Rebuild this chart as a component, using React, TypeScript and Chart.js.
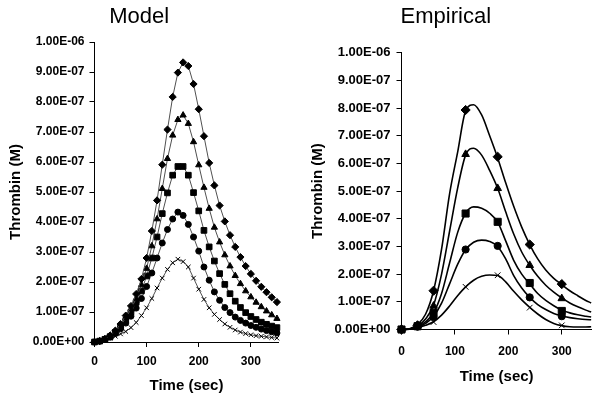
import React, { useEffect, useRef } from 'react';
import { Chart, registerables } from 'chart.js';

Chart.register(...registerables);

// ---------- DATA (thrombin in units of 1e-7 M, time in sec) ----------
const MODEL_TIME = [0, 10, 20, 30, 40, 50, 60, 70, 80, 90, 100, 110, 120, 130, 140, 150, 160, 170, 180, 190, 200, 210, 220, 230, 240, 250, 260, 270, 280, 290, 300, 310, 320, 330, 340, 350];
const MODEL_DIAMOND = [0, 0.03, 0.1, 0.22, 0.38, 0.6, 0.88, 1.2, 1.6, 2.1, 2.8, 3.7, 4.72, 5.91, 7.08, 8.17, 8.98, 9.32, 9.2, 8.6, 7.76, 6.86, 5.97, 5.22, 4.55, 4.02, 3.56, 3.17, 2.83, 2.53, 2.27, 2.04, 1.84, 1.66, 1.49, 1.33];
const MODEL_TRIANGLE = [0, 0.03, 0.1, 0.2, 0.35, 0.55, 0.8, 1.1, 1.45, 1.9, 2.45, 3.2, 4.1, 5.11, 6.11, 6.89, 7.41, 7.56, 7.28, 6.67, 5.9, 5.15, 4.45, 3.82, 3.33, 2.9, 2.53, 2.21, 1.94, 1.7, 1.5, 1.32, 1.17, 1.03, 0.9, 0.78];
const MODEL_SQUARE = [0, 0.03, 0.09, 0.18, 0.32, 0.5, 0.72, 1.0, 1.32, 1.7, 2.2, 2.8, 3.5, 4.28, 4.97, 5.56, 5.85, 5.85, 5.56, 4.98, 4.37, 3.72, 3.17, 2.7, 2.28, 1.92, 1.61, 1.36, 1.15, 0.98, 0.85, 0.75, 0.66, 0.59, 0.53, 0.48];
const MODEL_CIRCLE = [0, 0.03, 0.08, 0.16, 0.28, 0.44, 0.63, 0.86, 1.13, 1.45, 1.85, 2.3, 2.8, 3.3, 3.75, 4.1, 4.33, 4.22, 3.92, 3.5, 3.03, 2.5, 2.06, 1.67, 1.39, 1.15, 0.98, 0.83, 0.72, 0.63, 0.55, 0.49, 0.43, 0.38, 0.34, 0.3];
const MODEL_CROSS = [0, 0.02, 0.06, 0.12, 0.19, 0.27, 0.35, 0.48, 0.65, 0.88, 1.14, 1.45, 1.8, 2.13, 2.42, 2.64, 2.76, 2.68, 2.5, 2.13, 1.76, 1.42, 1.14, 0.92, 0.75, 0.6, 0.49, 0.4, 0.33, 0.28, 0.24, 0.21, 0.19, 0.17, 0.15, 0.13];

const EMP_TIME = [0, 30, 60, 120, 180, 240, 300];
const EMP_DIAMOND = [0, 0.15, 1.4, 7.93, 6.24, 3.07, 1.64];
const EMP_TRIANGLE = [0, 0.15, 0.85, 6.33, 5.1, 2.32, 1.12];
const EMP_SQUARE = [0, 0.12, 0.6, 4.19, 3.89, 1.68, 0.67];
const EMP_CIRCLE = [0, 0.1, 0.45, 2.89, 3.02, 1.16, 0.48];
const EMP_CROSS = [0, 0.08, 0.27, 1.54, 1.96, 0.79, 0.15];

const FIT_TIME = [0, 15, 30, 45, 60, 75, 90, 105, 120, 135, 150, 165, 180, 195, 210, 225, 240, 255, 270, 285, 300, 315, 330, 345, 355];
const FIT_DIAMOND = [0, 0.03, 0.18, 0.55, 1.4, 2.9, 4.9, 6.4, 7.9, 8.12, 7.75, 7.0, 6.2, 5.3, 4.45, 3.7, 3.07, 2.55, 2.15, 1.85, 1.62, 1.4, 1.22, 1.05, 0.96];
const FIT_TRIANGLE = [0, 0.02, 0.12, 0.38, 0.88, 2.0, 3.55, 5.1, 6.3, 6.55, 6.3, 5.75, 5.1, 4.25, 3.45, 2.8, 2.32, 1.92, 1.6, 1.35, 1.14, 0.96, 0.82, 0.7, 0.63];
const FIT_SQUARE = [0, 0.02, 0.1, 0.28, 0.6, 1.3, 2.4, 3.5, 4.2, 4.43, 4.38, 4.2, 3.88, 3.2, 2.5, 2.0, 1.65, 1.3, 1.05, 0.86, 0.7, 0.6, 0.53, 0.48, 0.45];
const FIT_CIRCLE = [0, 0.02, 0.08, 0.22, 0.47, 0.95, 1.65, 2.35, 2.88, 3.15, 3.23, 3.18, 3.0, 2.55, 1.95, 1.5, 1.16, 0.9, 0.72, 0.58, 0.49, 0.43, 0.39, 0.36, 0.35];
const FIT_CROSS = [0, 0.01, 0.07, 0.15, 0.28, 0.52, 0.85, 1.22, 1.54, 1.78, 1.92, 1.97, 1.95, 1.72, 1.38, 1.07, 0.8, 0.56, 0.36, 0.22, 0.14, 0.1, 0.09, 0.09, 0.1];

const Y_TICKS = [0, 1, 2, 3, 4, 5, 6, 7, 8, 9, 10];
const X_TICKS = [0, 100, 200, 300];

const FONT = '"Liberation Sans", Arial, Helvetica, sans-serif';

function sciLabel(v: number): string {
  const k = Math.round(v);
  if (k === 0) return '0.00E+00';
  if (k >= 10) return (k / 10).toFixed(2) + 'E-06';
  return k.toFixed(2) + 'E-07';
}

const pts = (xs: number[], ys: number[]) => xs.map((x, i) => ({ x, y: ys[i] }));

type Geo = {
  canvasW: number;
  areaLeft: number;
  areaRight: number;
  areaTop: number;
  areaBottom: number;
  yTitlePad: number;
  xTitlePad: number;
  yTickPad: number;
  xTickPad: number;
  yTickSize: number;
  xMax: number;
  title: string;
};

function makeConfig(geo: Geo, datasets: any[]): any {
  const titleSize = 22;
  const titleTop = 4;
  const titleBottom = geo.areaTop - titleTop - titleSize * 1.2;
  return {
    type: 'scatter',
    data: { datasets },
    options: {
      responsive: false,
      animation: false,
      events: [],
      layout: { padding: { left: 0, top: 0, right: geo.canvasW - geo.areaRight, bottom: 0 } },
      plugins: {
        legend: { display: false },
        tooltip: { enabled: false },
        title: {
          display: true,
          text: geo.title,
          color: '#000',
          font: { family: FONT, size: titleSize, weight: 'normal' },
          padding: { top: titleTop, bottom: titleBottom },
        },
      },
      scales: {
        x: {
          type: 'linear',
          min: 0,
          max: geo.xMax,
          bounds: 'data',
          afterFit: (s: any) => { s.height = 401 - geo.areaBottom; },
          afterBuildTicks: (s: any) => { s.ticks = X_TICKS.map((v) => ({ value: v })); },
          ticks: {
            color: '#000',
            font: { family: FONT, size: 12, weight: 'bold' },
            padding: geo.xTickPad,
            maxRotation: 0,
            autoSkip: false,
          },
          grid: { display: true, drawOnChartArea: false, drawTicks: true, tickLength: 5, color: '#000' },
          border: { display: true, color: '#000', width: 1 },
          title: {
            display: true,
            text: 'Time (sec)',
            color: '#000',
            font: { family: FONT, size: 15, weight: 'bold' },
            padding: { top: 0, bottom: geo.xTitlePad },
          },
        },
        y: {
          type: 'linear',
          min: 0,
          max: 10,
          afterFit: (s: any) => { s.width = geo.areaLeft; },
          afterBuildTicks: (s: any) => { s.ticks = Y_TICKS.map((v) => ({ value: v })); },
          ticks: {
            color: '#000',
            font: { family: FONT, size: geo.yTickSize, weight: 'bold' },
            padding: geo.yTickPad,
            autoSkip: false,
            callback: (v: number) => sciLabel(v),
          },
          grid: { display: true, drawOnChartArea: false, drawTicks: true, tickLength: 5, color: '#000' },
          border: { display: true, color: '#000', width: 1 },
          title: {
            display: true,
            text: 'Thrombin (M)',
            color: '#000',
            font: { family: FONT, size: 15, weight: 'bold' },
            padding: { top: geo.yTitlePad, bottom: 0 },
          },
        },
      },
    },
  };
}

const STYLES = [
  { style: 'rectRot', rModel: 3.6, rEmp: 4.6 },
  { style: 'triangle', rModel: 3.6, rEmp: 4.4 },
  { style: 'rect', rModel: 4.0, rEmp: 5.0 },
  { style: 'circle', rModel: 3.0, rEmp: 3.6 },
  { style: 'crossRot', rModel: 3.2, rEmp: 4.0 },
];

const MODEL_SERIES = [MODEL_DIAMOND, MODEL_TRIANGLE, MODEL_SQUARE, MODEL_CIRCLE, MODEL_CROSS];
const EMP_SERIES = [EMP_DIAMOND, EMP_TRIANGLE, EMP_SQUARE, EMP_CIRCLE, EMP_CROSS];
const FIT_SERIES = [FIT_DIAMOND, FIT_TRIANGLE, FIT_SQUARE, FIT_CIRCLE, FIT_CROSS];

const modelDatasets = MODEL_SERIES.map((ys, i) => ({
  data: pts(MODEL_TIME, ys),
  showLine: true,
  borderColor: '#505050',
  borderWidth: 1,
  pointStyle: STYLES[i].style,
  pointRadius: STYLES[i].rModel,
  pointBackgroundColor: '#000',
  pointBorderColor: '#000',
  pointBorderWidth: 1,
  clip: false,
}));

const empDatasets = [
  ...EMP_SERIES.map((ys, i) => ({
    data: pts(EMP_TIME, ys),
    showLine: false,
    pointStyle: STYLES[i].style,
    pointRadius: STYLES[i].rEmp,
    pointBackgroundColor: '#000',
    pointBorderColor: '#000',
    pointBorderWidth: 1,
    clip: false,
  })),
  ...FIT_SERIES.map((ys) => ({
    data: pts(FIT_TIME, ys),
    showLine: true,
    borderColor: '#000',
    borderWidth: 1.6,
    pointRadius: 0,
    cubicInterpolationMode: 'monotone',
    clip: false,
  })),
];

const LEFT_GEO: Geo = {
  canvasW: 345, areaLeft: 94.5, areaRight: 278.5, areaTop: 42, areaBottom: 342,
  yTitlePad: 7, xTitlePad: 6, yTickPad: 5, xTickPad: 7, yTickSize: 12, xMax: 353, title: 'Model',
};

const RIGHT_GEO: Geo = {
  canvasW: 346, areaLeft: 101.5, areaRight: 291.7, areaTop: 52.7, areaBottom: 329.5,
  yTitlePad: 9, xTitlePad: 15, yTickPad: 6, xTickPad: 10, yTickSize: 13, xMax: 356, title: 'Empirical',
};

function ChartCanvas({ config, left, width }: { config: any; left: number; width: number }) {
  const ref = useRef<HTMLCanvasElement>(null);
  useEffect(() => {
    const chart = new Chart(ref.current as HTMLCanvasElement, config);
    return () => chart.destroy();
  }, []);
  return (
    <canvas
      ref={ref}
      width={width}
      height={401}
      style={{ position: 'absolute', left, top: 0, width, height: 401 }}
    />
  );
}

export default function App() {
  return (
    <div style={{ position: 'fixed', left: 0, top: 0, width: 602, height: 401, overflow: 'hidden', background: '#fff' }}>
      <ChartCanvas config={makeConfig(LEFT_GEO, modelDatasets)} left={0} width={345} />
      <ChartCanvas config={makeConfig(RIGHT_GEO, empDatasets)} left={300} width={346} />
    </div>
  );
}
